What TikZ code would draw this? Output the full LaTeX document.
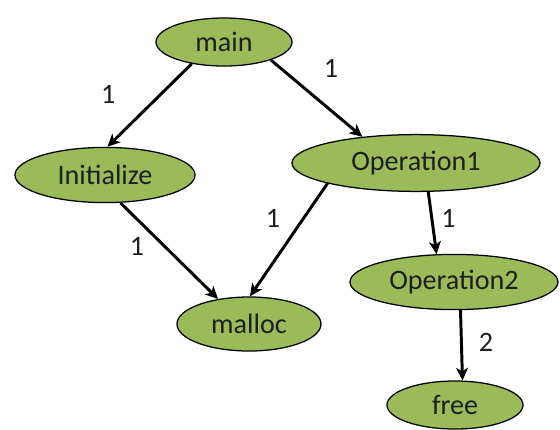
\documentclass[tikz,border=0pt]{standalone}
\usepackage{fontspec}
\setmainfont{Carlito}
\usetikzlibrary{shapes.geometric,arrows.meta}
\definecolor{callgreen}{RGB}{155,187,89}
\definecolor{calltext}{RGB}{30,30,30}
\begin{document}
\begin{tikzpicture}[x=0.025cm,y=-0.025cm,
		fn/.style={ellipse,draw=black,line width=0.9pt,fill=callgreen,inner sep=0pt,text=calltext,font=\fontsize{20}{24}\selectfont},
		call/.style={line width=2.1pt,draw=black,-{Stealth[length=9pt,width=8.5pt,inset=2.5pt]}},
		cnt/.style={font=\fontsize{20}{24}\selectfont,text=calltext}]
		\useasboundingbox (0,0) rectangle (560,429);
		\node[fn,minimum width=3.4cm,minimum height=1.2cm] (main) at (224,42) {main};
		\node[fn,minimum width=4.5cm,minimum height=1.38cm] (init) at (105,175) {Initialize};
		\node[fn,minimum width=6.2cm,minimum height=1.42cm] (op1) at (416,163) {Operation1};
		\node[fn,minimum width=5.2cm,minimum height=1.38cm] (op2) at (454,282) {Operation2};
		\node[fn,minimum width=3.6cm,minimum height=1.35cm] (malloc) at (249,324) {malloc};
		\node[fn,minimum width=3.4cm,minimum height=1.2cm] (free) at (455,405) {free};
		\draw[call] (main.214) -- node[cnt,pos=0.55,above left,xshift=-17pt] {1} (init.85);
		\draw[call] (main.-21) -- node[cnt,pos=0.45,above right,xshift=4pt,yshift=8pt] {1} (op1.154);
		\draw[call] (init.-61) -- node[cnt,pos=0.45,left=10pt] {1} (malloc.141);
		\draw[call] (op1.193) -- node[cnt,pos=0.35,left=10pt,yshift=3pt] {1} (malloc.88);
		\draw[call] (op1.-67) -- node[cnt,midway,right=2pt,yshift=3pt] {1} (op2.122);
		\draw[call] (op2.-77) -- node[cnt,midway,right=8pt,yshift=2pt] {2} (free.73);
\end{tikzpicture}
\end{document}
